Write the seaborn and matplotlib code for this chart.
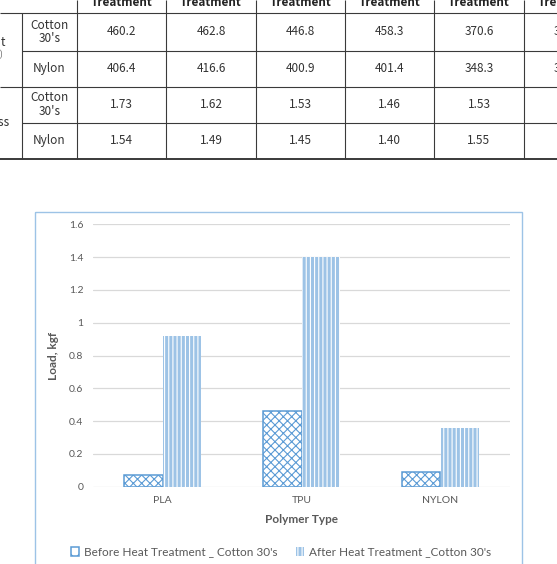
import matplotlib
matplotlib.use("Agg")
import matplotlib.pyplot as plt
import seaborn as sns
import pandas as pd
from matplotlib.patches import Rectangle, Patch

# ---------------- data ----------------
polymers = ["PLA", "TPU", "NYLON"]
before_cotton = [0.07, 0.46, 0.09]
after_cotton = [0.92, 1.40, 0.36]
series_names = ["Before Heat Treatment _ Cotton 30's", "After Heat Treatment _Cotton 30's"]
y_ticks = [0, 0.2, 0.4, 0.6, 0.8, 1, 1.2, 1.4, 1.6]
y_tick_labels = ["0", "0.2", "0.4", "0.6", "0.8", "1", "1.2", "1.4", "1.6"]

table_header = ["Treatment"] * 6
table_row_labels = ["Cotton\n30's", "Nylon", "Cotton\n30's", "Nylon"]
table_values = [
    ["460.2", "462.8", "446.8", "458.3", "370.6", "365.4"],
    ["406.4", "416.6", "400.9", "401.4", "348.3", "341.2"],
    ["1.73", "1.62", "1.53", "1.46", "1.53", "1.52"],
    ["1.54", "1.49", "1.45", "1.40", "1.55", "1.51"],
]
group_labels = [("Weight", "(g/m²)"), ("Thickness", "")]

# ---------------- figure ----------------
W, H = 557, 564
sns.set_theme(style="white")
plt.rcParams["hatch.linewidth"] = 0.8
plt.rcParams["font.family"] = ["Lato", "DejaVu Sans"]
fig = plt.figure(figsize=(W / 100, H / 100), dpi=100)
fig.patch.set_facecolor("white")

# overlay axes in pixel coordinates for the table and chart frame
ov = fig.add_axes([0, 0, 1, 1], zorder=-1)
ov.set_xlim(0, W)
ov.set_ylim(H, 0)
ov.axis("off")

tfont = ["Noto Sans CJK KR", "DejaVu Sans"]
lc = "#3a3a3a"
col_edges = [22, 77, 166, 256, 345, 434, 524, 613]
row_edges = [13.3, 50.5, 86.5, 122.7, 159]
ov.hlines(row_edges[0], 0, W, color=lc, lw=0.8)
ov.hlines(row_edges[1], col_edges[0], W, color=lc, lw=0.8)
ov.hlines(row_edges[2], 0, W, color=lc, lw=0.8)
ov.hlines(row_edges[3], col_edges[0], W, color=lc, lw=0.8)
ov.hlines(row_edges[4], 0, W, color=lc, lw=1.4)
ov.vlines(col_edges[0], row_edges[0], row_edges[4], color=lc, lw=0.8)
for x in col_edges[1:-1]:
    ov.vlines(x, 0, row_edges[4], color=lc, lw=0.8)

for j, h in enumerate(table_header):
    cx = (col_edges[j + 1] + col_edges[j + 2]) / 2
    ov.text(cx, 2.0, h, ha="center", va="center", fontsize=8.5, fontweight="bold",
            color="#222222", family=tfont)
for i, lab in enumerate(table_row_labels):
    cy = (row_edges[i] + row_edges[i + 1]) / 2
    ov.text((col_edges[0] + col_edges[1]) / 2, cy, lab, ha="center", va="center",
            fontsize=8.5, color="#333333", family=tfont, linespacing=1.05)
    for j, v in enumerate(table_values[i]):
        cx = (col_edges[j + 1] + col_edges[j + 2]) / 2
        ov.text(cx, cy, v, ha="center", va="center", fontsize=8.5,
                color="#333333", family=tfont)
ov.text(6, 42.5, group_labels[0][0], ha="right", va="center", fontsize=8.5,
        color="#333333", family=tfont)
ov.text(3, 54, group_labels[0][1], ha="right", va="center", fontsize=6.5,
        color="#555555", family=tfont)
ov.text(9.5, 123, group_labels[1][0], ha="right", va="center", fontsize=8.5,
        color="#333333", family=tfont)

ov.add_patch(Rectangle((35, 212), 487, 400, fill=False, edgecolor="#9DC3E6", lw=1.0))

# ---------------- bar chart ----------------
ax_l, ax_r, ax_t, ax_b = 93, 510, 224.3, 486.7
ax = fig.add_axes([ax_l / W, (H - ax_b) / H, (ax_r - ax_l) / W, (ax_b - ax_t) / H])
ax.set_facecolor("none")

df = pd.DataFrame({
    "Polymer": polymers * 2,
    "Load": before_cotton + after_cotton,
    "Series": [series_names[0]] * 3 + [series_names[1]] * 3,
})
sns.barplot(data=df, x="Polymer", y="Load", hue="Series", order=polymers,
            hue_order=series_names, width=0.56, palette=["white", "#9DC3E6"],
            saturation=1, legend=False, ax=ax, zorder=2)

blue = "#5B9BD5"
for p in ax.containers[0]:
    p.set_facecolor("white")
    p.set_edgecolor(blue)
    p.set_hatch("xxxx")
    p.set_linewidth(1.1)
for p in ax.containers[1]:
    p.set_facecolor("#9DC3E6")
    p.set_edgecolor("white")
    p.set_hatch("||||")
    p.set_linewidth(0)

ax.set_xlim(-0.5, 2.5)
ax.set_ylim(0, 1.6)
ax.set_yticks(y_ticks)
ax.set_yticklabels(y_tick_labels)
ax.yaxis.grid(True, color="#D9D9D9", lw=0.9)
ax.set_axisbelow(True)
for s in ax.spines.values():
    s.set_visible(False)
gray = "#595959"
ax.tick_params(axis="both", length=0, labelsize=7.5, labelcolor=gray)
ax.tick_params(axis="y", pad=7)
ax.tick_params(axis="x", pad=7)
ax.set_xlabel("Polymer Type", fontsize=8.5, fontweight="bold", color=gray, labelpad=6)
ax.set_ylabel("Load, kgf", fontsize=8.5, fontweight="bold", color=gray)
ax.yaxis.set_label_coords((59 - ax_l) / (ax_r - ax_l), 0.5)

handles = [
    Patch(facecolor="white", edgecolor=blue, hatch="xx", lw=1.1),
    Patch(facecolor="#9DC3E6", edgecolor="white", hatch="||||", lw=0),
]
leg = fig.legend(handles, series_names, loc="center", bbox_to_anchor=(281 / W, (H - 552) / H),
                 ncol=2, frameon=False, fontsize=8.5, handlelength=0.7, handleheight=0.7,
                 handletextpad=0.4, columnspacing=1.6, borderpad=0)
for t in leg.get_texts():
    t.set_color(gray)

fig.savefig("out.png", dpi=100, facecolor="white")
